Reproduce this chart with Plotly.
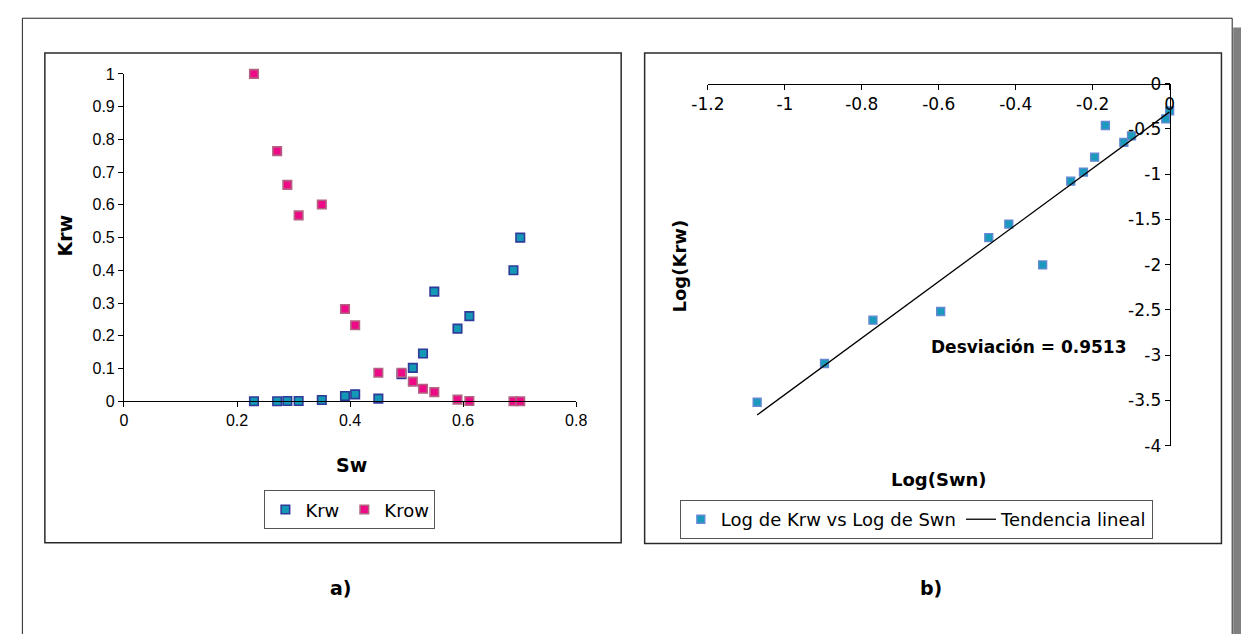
import numpy as np
import plotly.graph_objects as go

W, H = 1252, 634

# ---- panel a): relative permeabilities vs water saturation ----
SW = [0.230, 0.271, 0.289, 0.309, 0.350, 0.391, 0.409, 0.450,
      0.491, 0.511, 0.529, 0.549, 0.590, 0.611, 0.689, 0.701]
KRW = [0.000, 0.000, 0.001, 0.001, 0.004, 0.016, 0.021, 0.008,
       0.083, 0.102, 0.146, 0.335, 0.222, 0.260, 0.400, 0.500]
KROW = [1.000, 0.764, 0.661, 0.568, 0.601, 0.282, 0.232, 0.087,
        0.087, 0.060, 0.038, 0.028, 0.005, 0.001, 0.000, 0.000]

# ---- panel b): log-log linearisation ----
LOG_SWN = [-1.072, -0.897, -0.771, -0.595, -0.470, -0.418, -0.330, -0.257,
           -0.224, -0.195, -0.167, -0.119, -0.099, -0.010, 0.000]
LOG_KRW = [-3.519, -3.091, -2.613, -2.517, -1.700, -1.551, -2.003, -1.077,
           -0.977, -0.813, -0.463, -0.649, -0.578, -0.390, -0.301]

A_X_TICKS = [0, 0.2, 0.4, 0.6, 0.8]
A_X_LABELS = ["0", "0.2", "0.4", "0.6", "0.8"]
A_Y_TICKS = [0, 0.1, 0.2, 0.3, 0.4, 0.5, 0.6, 0.7, 0.8, 0.9, 1]
A_Y_LABELS = ["0", "0.1", "0.2", "0.3", "0.4", "0.5", "0.6", "0.7", "0.8", "0.9", "1"]
B_X_TICKS = [-1.2, -1, -0.8, -0.6, -0.4, -0.2, 0]
B_X_LABELS = ["-1.2", "-1", "-0.8", "-0.6", "-0.4", "-0.2", "0"]
B_Y_TICKS = [0, -0.5, -1, -1.5, -2, -2.5, -3, -3.5, -4]
B_Y_LABELS = ["0", "-0.5", "-1", "-1.5", "-2", "-2.5", "-3", "-3.5", "-4"]

DEVIATION_LABEL = "Desviación = 0.9513"


def px(x):
    return x / W


def py(y):
    return 1 - y / H


# least-squares linear trend of the log data
slope, intercept = np.polyfit(LOG_SWN, LOG_KRW, 1)
trend_x = np.array([min(LOG_SWN), max(LOG_SWN)])
trend_y = slope * trend_x + intercept

fig = go.Figure()

fig.add_trace(go.Scatter(
    x=SW, y=KRW, mode="markers", name="Krw", legend="legend",
    xaxis="x", yaxis="y", cliponaxis=False,
    marker=dict(symbol="square", size=8.5, color="#1398b6",
                line=dict(color="#2f3a98", width=1.6)),
))
fig.add_trace(go.Scatter(
    x=SW, y=KROW, mode="markers", name="Krow", legend="legend",
    xaxis="x", yaxis="y", cliponaxis=False,
    marker=dict(symbol="square", size=8.5, color="#ee0a86",
                line=dict(color="#b46282", width=1.6)),
))
fig.add_trace(go.Scatter(
    x=LOG_SWN, y=LOG_KRW, mode="markers", name="Log de Krw vs Log de Swn",
    legend="legend2", xaxis="x2", yaxis="y2", cliponaxis=False,
    marker=dict(symbol="square", size=8, color="#1a9bbd",
                line=dict(color="#6688d4", width=1.3)),
))
fig.add_trace(go.Scatter(
    x=trend_x, y=trend_y, mode="lines", name="Tendencia lineal",
    legend="legend2", xaxis="x2", yaxis="y2", cliponaxis=False,
    line=dict(color="black", width=1.3),
))

axis_common = dict(showgrid=False, zeroline=False, showline=True,
                   linecolor="black", linewidth=1, ticks="outside",
                   ticklen=5, tickwidth=1, tickcolor="black",
                   tickmode="array", fixedrange=True)

fig.update_layout(
    width=W, height=H, autosize=False,
    margin=dict(l=0, r=0, t=0, b=0),
    paper_bgcolor="white", plot_bgcolor="white",
    showlegend=True,
    xaxis=dict(domain=[px(109.4), px(572)], range=[0, 0.8], anchor="y",
               tickvals=A_X_TICKS, ticktext=A_X_LABELS,
               tickfont=dict(family="Liberation Sans, Arial", size=16, color="black"),
               **axis_common),
    yaxis=dict(domain=[py(404), py(66)], range=[0, 1], anchor="x",
               tickvals=A_Y_TICKS, ticktext=A_Y_LABELS,
               tickfont=dict(family="Liberation Sans, Arial", size=16, color="black"),
               **axis_common),
    xaxis2=dict(domain=[px(706.7), px(1179)], range=[-1.2, 0],
                anchor="free", position=py(76), side="bottom",
                tickvals=B_X_TICKS, ticktext=B_X_LABELS,
                tickfont=dict(family="DejaVu Sans", size=17, color="black"),
                **axis_common),
    yaxis2=dict(domain=[py(450), py(76)], range=[-4, 0],
                anchor="free", position=px(1179), side="left",
                tickvals=B_Y_TICKS, ticktext=B_Y_LABELS,
                tickfont=dict(family="DejaVu Sans", size=17, color="black"),
                **axis_common),
    legend=dict(orientation="h", x=px(340.5), y=py(496), xanchor="center", yanchor="top",
                bgcolor="white", bordercolor="#555555", borderwidth=1,
                font=dict(family="DejaVu Sans", size=18, color="black"),
                itemwidth=30, tracegroupgap=0),
    legend2=dict(orientation="h", x=px(678), y=py(506), xanchor="left", yanchor="top",
                 bgcolor="white", bordercolor="#555555", borderwidth=1,
                 font=dict(family="DejaVu Sans", size=18, color="black"),
                 itemwidth=30, tracegroupgap=0),
)

# frames around the two panels, outer page frame and its shadow
shapes = [
    dict(type="rect", xref="paper", yref="paper",
         x0=px(1244), x1=px(1252), y0=py(660), y1=py(18),
         fillcolor="#808080", line=dict(width=0), layer="below"),
    dict(type="rect", xref="paper", yref="paper",
         x0=px(5.5), x1=px(1243), y0=py(660), y1=py(8.5),
         line=dict(color="#222222", width=1), layer="below"),
    dict(type="rect", xref="paper", yref="paper",
         x0=px(28.5), x1=px(618), y0=py(550), y1=py(44.5),
         line=dict(color="#2a2a2a", width=1.5), layer="below"),
    dict(type="rect", xref="paper", yref="paper",
         x0=px(642), x1=px(1232), y0=py(551), y1=py(44.5),
         line=dict(color="#2a2a2a", width=1.5), layer="below"),
]
fig.update_layout(shapes=shapes)

title_font = dict(family="DejaVu Sans", size=19, color="black")
ann = [
    dict(text="<b>Krw</b>", x=px(49), y=py(233), textangle=-90, font=title_font),
    dict(text="<b>Sw</b>", x=px(342), y=py(470), font=title_font),
    dict(text="<b>Log(Krw)</b>", x=px(678), y=py(264), textangle=-90,
         font=dict(family="DejaVu Sans", size=18, color="black")),
    dict(text="<b>Log(Swn)</b>", x=px(943), y=py(485),
         font=dict(family="DejaVu Sans", size=18, color="black")),
    dict(text="<b>" + DEVIATION_LABEL + "</b>", x=px(1035.5), y=py(348),
         font=dict(family="DejaVu Sans", size=17, color="black")),
    dict(text="<b>a)</b>", x=px(331), y=py(597), font=title_font),
    dict(text="<b>b)</b>", x=px(935), y=py(597), font=title_font),
]
for a in ann:
    a.update(xref="paper", yref="paper", showarrow=False,
             xanchor="center", yanchor="middle")
fig.update_layout(annotations=ann)

# the page body keeps no default margin so the figure fills the window exactly
fig.write_html(
    "out.html",
    config={"displayModeBar": False},
    post_script="document.body.style.margin='0';document.body.style.overflow='hidden';",
)
